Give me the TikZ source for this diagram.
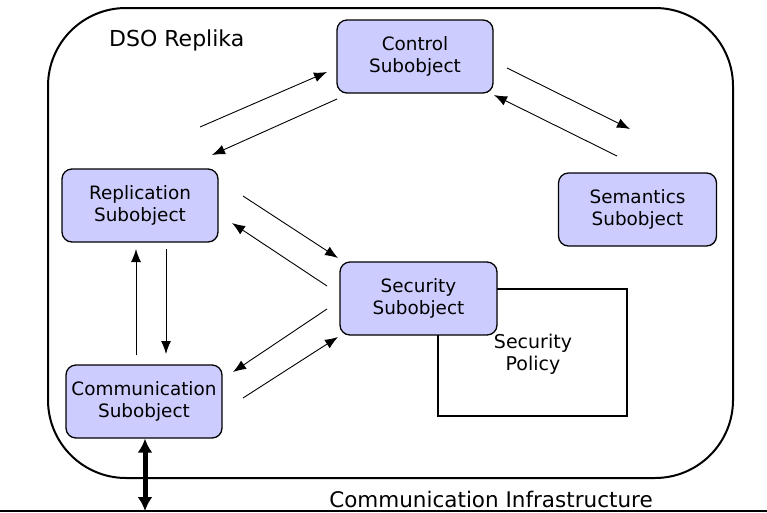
\documentclass[tikz,border=0pt]{standalone}
\usepackage{fontspec}
\setmainfont{DejaVu Sans}
\usetikzlibrary{arrows.meta}
\begin{document}
\begin{tikzpicture}[x=1pt,y=-1pt,
  sub/.style={draw=black, line width=1.3pt, fill={rgb,255:red,204;green,204;blue,255},
    rounded corners=10pt, minimum width=156pt, minimum height=73pt,
    align=center, font=\fontsize{18.4}{22}\selectfont, inner sep=0pt},
  flow/.style={line width=0.9pt, -{Latex[length=13pt,width=10pt]}},
  lbl/.style={font=\fontsize{19}{22}\selectfont, align=center, inner sep=0pt},
  biglbl/.style={font=\fontsize{22}{26}\selectfont, inner sep=0pt}]
\useasboundingbox (0,0) rectangle (767,512);

% replica frame
\draw[line width=2pt, rounded corners=78pt] (48,8) rectangle (733,478);
\node[biglbl, anchor=west] (replika) at (109,40) {DSO Replika};

% security policy box behind the security subobject
\draw[line width=1.5pt] (438,289) rectangle (627,416);
\node[lbl] (policy) at (533,354) {Security\\Policy};

% subobjects
\node[sub] (ctrl) at (415,56.5) {Control\\Subobject};
\node[sub] (repl) at (140,205.5) {Replication\\Subobject};
\node[sub, minimum width=158pt] (sem) at (637.5,209.5) {Semantics\\Subobject};
\node[sub, minimum width=157pt] (sec) at (418.5,298.5) {Security\\Subobject};
\node[sub] (comm) at (144,401.5) {Communication\\Subobject};

% arrow end points
\coordinate (rc1) at (200,127);  \coordinate (rc2) at (327,72);
\coordinate (cr1) at (337,99);   \coordinate (cr2) at (212,155);
\coordinate (cs1) at (507,68);   \coordinate (cs2) at (630,129);
\coordinate (sc1) at (617,156);  \coordinate (sc2) at (494,95);
\coordinate (rs1) at (243,196);  \coordinate (rs2) at (338,258);
\coordinate (sr1) at (327,286);  \coordinate (sr2) at (232,223);
\coordinate (mr1) at (136,355);  \coordinate (mr2) at (136,249);
\coordinate (rm1) at (166,249);  \coordinate (rm2) at (166,354);
\coordinate (sm1) at (327,309);  \coordinate (sm2) at (233,372);
\coordinate (ms1) at (243,398);  \coordinate (ms2) at (338,337);

\draw[flow] (rc1) -- (rc2);
\draw[flow] (cr1) -- (cr2);
\draw[flow] (cs1) -- (cs2);
\draw[flow] (sc1) -- (sc2);
\draw[flow] (rs1) -- (rs2);
\draw[flow] (sr1) -- (sr2);
\draw[flow] (mr1) -- (mr2);
\draw[flow] (rm1) -- (rm2);
\draw[flow] (sm1) -- (sm2);
\draw[flow] (ms1) -- (ms2);

% communication infrastructure
\coordinate (busL) at (0,511);
\coordinate (busR) at (767,511);
\coordinate (busTap) at (145,511);
\draw[line width=2pt] (busL) -- (busR);
\node[biglbl, font=\fontsize{21.5}{26}\selectfont] (infra) at (491,499) {Communication Infrastructure};
\draw[line width=5pt, {Latex[length=14pt,width=15pt]}-{Latex[length=14pt,width=15pt]}]
  (comm.south -| busTap) -- (busTap);
\end{tikzpicture}
\end{document}
